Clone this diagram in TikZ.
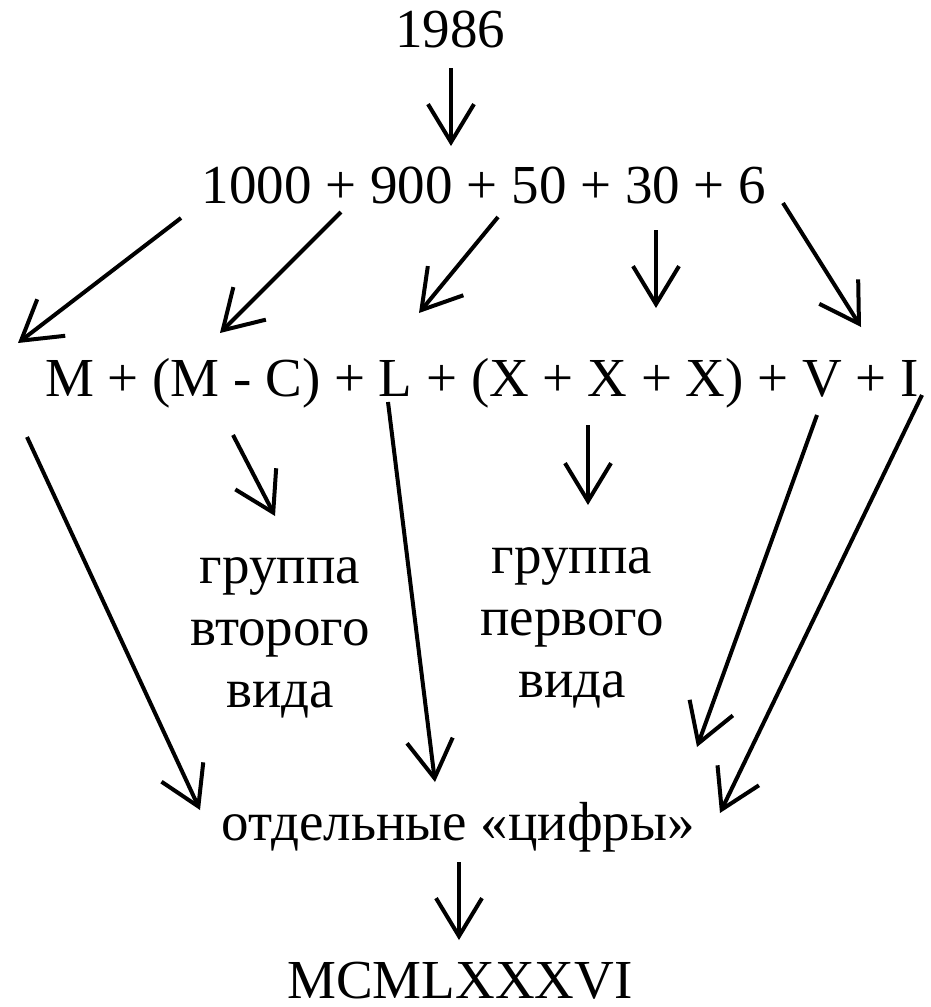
\documentclass[tikz,border=0pt]{standalone}
\usepackage{fontspec}
\setmainfont{Liberation Serif}
\usetikzlibrary{arrows.meta}
\begin{document}
\begin{tikzpicture}[x=1pt,y=-1pt,
  txt/.style={inner sep=0pt, anchor=base, font=\fontsize{55}{55}\selectfont},
  grp/.style={inner sep=0pt, align=center, font=\fontsize{55}{62}\selectfont},
  arr/.style={line width=4pt, -{Straight Barb[length=38pt,width=46pt,line width=4pt]}}]
\useasboundingbox (0,0) rectangle (931,1007);
\node[txt] (y) at (450,47) {1986};
\node[txt] (sum) at (484,203) {1000 + 900 + 50 + 30 + 6};
\node[txt] (rom) at (482,396) {M + (M - C) + L + (X + X + X) + V + I};
\node[grp] (g2) at (280,638) {группа\\второго\\вида};
\node[grp] (g1) at (572,628) {группа\\первого\\вида};
\node[txt] (dig) at (458,840) {отдельные «цифры»};
\node[txt] (res) at (460,998) {MCMLXXXVI};
% coordinates
\coordinate (a0s) at (451,68);   \coordinate (a0e) at (451,146);
\coordinate (a1s) at (181,218);  \coordinate (a1e) at (18,343);
\coordinate (a2s) at (341,212);  \coordinate (a2e) at (220,333);
\coordinate (a3s) at (498,217);  \coordinate (a3e) at (419,313);
\coordinate (a4s) at (656,230);  \coordinate (a4e) at (656,308);
\coordinate (a5s) at (783,203);  \coordinate (a5e) at (861,327);
\coordinate (b1s) at (27,437);   \coordinate (b1e) at (200,810);
\coordinate (b2s) at (233,435);  \coordinate (b2e) at (275,516);
\coordinate (b3s) at (388,402);  \coordinate (b3e) at (435,782);
\coordinate (b4s) at (588,425);  \coordinate (b4e) at (588,505);
\coordinate (b5s) at (817,415);  \coordinate (b5e) at (697,747);
\coordinate (b6s) at (922,395);  \coordinate (b6e) at (720,813);
\coordinate (c1s) at (459,862);  \coordinate (c1e) at (459,940);
\draw[arr] (a0s) -- (a0e);
\draw[arr] (a1s) -- (a1e);
\draw[arr] (a2s) -- (a2e);
\draw[arr] (a3s) -- (a3e);
\draw[arr] (a4s) -- (a4e);
\draw[arr] (a5s) -- (a5e);
\draw[arr] (b1s) -- (b1e);
\draw[arr] (b2s) -- (b2e);
\draw[arr] (b3s) -- (b3e);
\draw[arr] (b4s) -- (b4e);
\draw[arr] (b5s) -- (b5e);
\draw[arr] (b6s) -- (b6e);
\draw[arr] (c1s) -- (c1e);
\end{tikzpicture}
\end{document}
